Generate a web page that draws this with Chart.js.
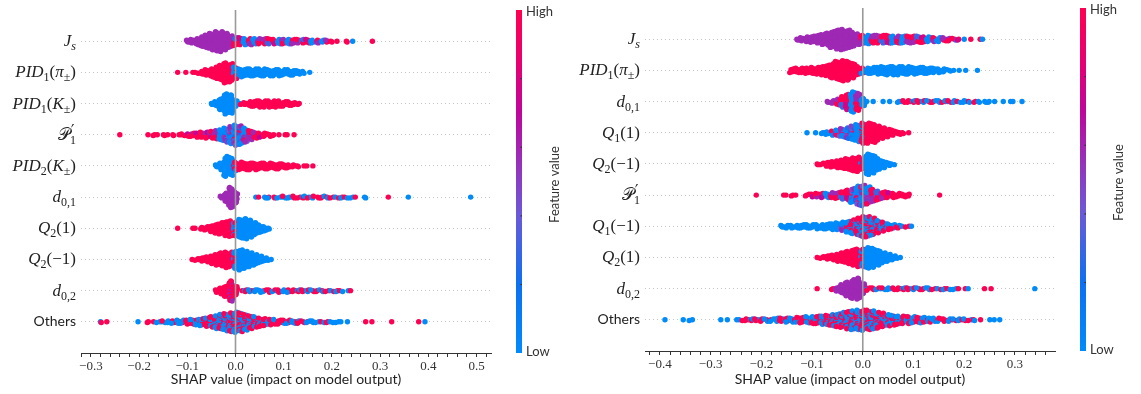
<!DOCTYPE html>
<html>
<head>
<meta charset="utf-8">
<script src="https://cdn.jsdelivr.net/npm/chart.js@4.4.0/dist/chart.umd.min.js"></script>
<style>
  html, body { margin: 0; padding: 0; background: #fff; }
  #wrap { position: relative; width: 1141px; height: 394px; }
  canvas { position: absolute; top: 0; }
  #leftChart { left: 0; }
  #rightChart { left: 570px; }
</style>
</head>
<body>
<div id="wrap">
  <canvas id="leftChart" width="570" height="394"></canvas>
  <canvas id="rightChart" width="571" height="394"></canvas>
</div>
<script>
// bin width of the SHAP histograms (each count = points stacked in that bin)
const binWidth = 0.01;

// ---- left panel ----
const leftLabels = ['$J_{s}', '$PID_{1}(π_{±})', '$PID_{1}(K_{±})', '$𝒫^{′}_{1}', '$PID_{2}(K_{±})',
  '$d_{0,1}', '$Q_{2}(1)', '$Q_{2}(−1)', '$d_{0,2}', 'Others'];
const leftStarts = [-0.10, -0.12, -0.05, -0.24, -0.04, -0.03, -0.12, -0.09, -0.04, -0.28];
const leftCounts = [
  [3,5,8,12,16,20,23,24,20,14, 10,9,8,8,7,7,7,7,6,6, 6,6,6,5,5,5,4,4,3,3, 2,1,0,2,1,0,0,0,1],
  [1,0,1,1,2,4,7,10,14,18,24,22, 14,10,9,9,9,9,9,8,8,8,7,7,6,5,3,1],
  [2,6,14,24,22,8, 2,3,6,7,8,8,8,8,7,6,5,4,2],
  [1,0,0,0,0,0,1,2,1,2,1,2,1,3,4,5,6,7,8,9,11,14,18,22, 26,24,18,12,8,6,5,4,2,1,1,1,1],
  [3,8,22,20, 10,9,8,8,8,7,7,7,6,6,5,4,3,2,1,1,1],
  [3,12,26, 14,0,0,0,1,1,2,2,2,2,3,2,3,2,3,2,3,2,3,2,2,2,2,2,2,1,0,2,0,0,0,0,1,0,0,0,1,0,0,0,0,0,0,0,0,0,0,0,0,1],
  [1,0,0,1,1,3,5,8,12,15,18,20, 18,24,26,22,16,10,6,2],
  [1,3,5,7,10,14,17,20,19, 22,26,22,18,14,9,5,2],
  [4,8,14,26, 12,1,3,3,3,4,3,4,3,4,3,4,3,3,3,3,3,3,2,2,2,2,2,1,1],
  [2,1,0,0,0,0,0,0,1,0,2,1,2,3,3,4,5,5,6,7,8,10,12,15,18,21,24,26,
   28,26,22,18,15,12,10,8,7,6,5,5,4,4,3,3,3,2,2,2,2,2,1,1,0,0,0,1,1,0,0,0,1,0,0,0,0,0,1,1]
];
// feature-value code by x range: r high, b low, p mid, m high/low mix, x all mixed, q high/mid, c low/mid
const leftHues = [
  [[-0.10,'p'],[0.00,'x'],[0.20,'r'],[0.24,'b'],[0.28,'r']],
  [[-0.12,'r'],[0.00,'m'],[0.01,'b']],
  [[-0.05,'b'],[0.01,'m'],[0.02,'r']],
  [[-0.24,'r'],[-0.10,'q'],[-0.04,'x'],[-0.02,'c'],[0.03,'x'],[0.04,'q'],[0.06,'r']],
  [[-0.04,'b'],[0.00,'m'],[0.01,'r']],
  [[-0.03,'p'],[0.04,'b'],[0.05,'r'],[0.06,'m'],[0.32,'r'],[0.36,'b']],
  [[-0.12,'r'],[0.00,'m'],[0.01,'b']],
  [[-0.09,'r'],[0.00,'m'],[0.01,'b']],
  [[-0.04,'r'],[-0.01,'q'],[0.00,'r'],[0.02,'m']],
  [[-0.28,'m'],[-0.27,'r'],[-0.20,'b'],[-0.18,'r'],[-0.16,'m'],[0.27,'r'],[0.39,'b']]
];
const leftTickValues = [-0.3, -0.2, -0.1, 0.0, 0.1, 0.2, 0.3, 0.4, 0.5];
const leftTickLabels = ['−0.3', '−0.2', '−0.1', '0.0', '0.1', '0.2', '0.3', '0.4', '0.5'];

// ---- right panel ----
const rightLabels = ['$J_{s}', '$PID_{1}(π_{±})', '$d_{0,1}', '$Q_{1}(1)', '$Q_{2}(−1)',
  '$𝒫^{′}_{1}', '$Q_{1}(−1)', '$Q_{2}(1)', '$d_{0,2}', 'Others'];
const rightStarts = [-0.13, -0.14, -0.07, -0.11, -0.09, -0.21, -0.16, -0.09, -0.09, -0.39];
const rightCounts = [
  [2,5,7,9,11,14,17,22,26,28,25,20,15, 12,12,11,11,11,11,10,10,10,10,9,9,8,7,6,6,5,4,3,2,1,1,0,1,1],
  [6,7,7,8,9,10,12,15,20,25,28,26,20,12, 8,8,9,10,11,12,12,12,11,11,10,9,9,8,7,6,5,3,1,1,1,0,0,1],
  [2,4,8,14,20,26,22,10, 1,1,0,1,1,0, 2,3,3,3,3,3,3,3,3,3,3,3,2,3,2,2,2,2,2,1,0,1,1,1,1],
  [1,0,1,2,4,6,8,11,14,18,22, 26,26,24,18,14,10,7,4,2,1],
  [2,3,6,8,10,12,15,18,20, 14,28,24,16,10,5,2],
  [1,0,0,0,0,1,1,2,1,0,3,4,5,6,6,7,8,10,13,18,24, 26,22,16,12,9,7,6,5,4,3,0,0,0,0,0,1],
  [3,4,4,4,5,5,5,6,6,7,8,9,11,14,18,22, 26,26,22,16,12,8,6,4,2,1,1],
  [1,3,5,7,10,13,17,21,24, 24,28,26,20,14,10,6,2],
  [1,0,0,2,6,12,18,24,27, 14,4,3,3,3,3,3,3,3,3,3,3,3,3,2,2,2,2,2,1,1,1,0,0,1,1,0,0,0,0,0,0,0,0,1],
  [1,0,0,0,1,2,0,0,0,0,0,1,1,0,1,2,3,3,3,4,4,4,5,5,6,6,7,8,9,10,11,12,14,16,18,21,24,26,27,
   28,27,25,22,19,16,14,12,11,10,9,8,7,6,5,5,4,4,3,3,3,2,2,1,0,1,1,1]
];
const rightHues = [
  [[-0.13,'p'],[0.00,'x'],[0.21,'r'],[0.24,'b']],
  [[-0.14,'r'],[0.00,'m'],[0.01,'b']],
  [[-0.07,'p'],[-0.05,'x'],[0.01,'b'],[0.07,'m'],[0.28,'b']],
  [[-0.11,'b'],[-0.06,'c'],[-0.01,'b'],[0.00,'m'],[0.01,'r']],
  [[-0.09,'r'],[0.00,'m'],[0.01,'b']],
  [[-0.21,'r'],[-0.10,'q'],[-0.07,'x'],[-0.02,'c'],[0.02,'x'],[0.04,'q'],[0.06,'r']],
  [[-0.16,'b'],[-0.04,'c'],[-0.03,'m'],[0.09,'r'],[0.10,'b']],
  [[-0.09,'r'],[0.00,'m'],[0.01,'b']],
  [[-0.09,'r'],[-0.06,'m'],[-0.05,'p'],[0.01,'m'],[0.24,'r'],[0.34,'b']],
  [[-0.39,'b'],[-0.24,'m'],[0.25,'b']]
];
const rightTickValues = [-0.4, -0.3, -0.2, -0.1, 0.0, 0.1, 0.2, 0.3];
const rightTickLabels = ['−0.4', '−0.3', '−0.2', '−0.1', '0.0', '0.1', '0.2', '0.3'];

const xTitle = 'SHAP value (impact on model output)';
const barHigh = 'High';
const barLow = 'Low';
const barTitle = 'Feature value';

// shap red_blue colormap, low -> high
const cmapStops = [
  [0.00, [0, 139, 251]],
  [0.20, [12, 112, 240]],
  [0.40, [106, 90, 216]],
  [0.55, [150, 50, 186]],
  [0.70, [190, 6, 156]],
  [0.85, [232, 0, 112]],
  [1.00, [255, 0, 82]]
];

function cmap(t) {
  for (let i = 1; i < cmapStops.length; i++) {
    const [t1, c1] = cmapStops[i];
    const [t0, c0] = cmapStops[i - 1];
    if (t <= t1) {
      const f = (t - t0) / (t1 - t0);
      const c = c0.map((v, k) => Math.round(v + (c1[k] - v) * f));
      return `rgb(${c[0]},${c[1]},${c[2]})`;
    }
  }
  return 'rgb(255,0,82)';
}

// feature-value mixes used inside a bin
const mixes = {
  r: [1], b: [0], p: [0.58],
  m: [0, 1, 1, 0, 1, 0, 0, 1, 1, 0, 1, 0, 0, 0, 1, 1, 0, 1],
  x: [0, 1, 0.58, 1, 0, 0.58, 1, 0, 0.3, 1, 0.58, 0, 1, 0.8],
  q: [1, 0.6, 1, 1, 0.7, 1, 0.58, 1],
  c: [0, 0.5, 0, 0.6, 0.25, 1, 0, 0.4, 0, 0.58, 0, 0.2]
};
// spread of points inside a bin (fraction of bin width)
const binSpread = [0, 0.3, -0.3, 0.15, -0.4, 0.4, -0.15, 0.22, -0.22, 0.05, -0.08];

function codeAt(segs, x) {
  let code = segs[0][1];
  segs.forEach(([from, c]) => { if (x >= from - 1e-9) code = c; });
  return code;
}

// beeswarm layout like shap: layers alternate above / below the row
function buildSwarm(starts, counts, hues) {
  const pts = [], cols = [];
  counts.forEach((row, i) => {
    let maxLayer = 0;
    row.forEach(n => { maxLayer = Math.max(maxLayer, Math.ceil((n - 1) / 2)); });
    const scale = 0.36 / (maxLayer + 1);
    row.forEach((n, j) => {
      const x = +(starts[i] + j * binWidth).toFixed(3);
      const mix = mixes[codeAt(hues[i], x)];
      for (let k = 0; k < n; k++) {
        const off = Math.ceil(k / 2) * (k % 2 ? 1 : -1);
        const dx = binSpread[(k * 3 + j) % binSpread.length] * binWidth;
        pts.push({ x: x + dx, y: i + off * scale });
        cols.push(cmap(mix[(k * 7 + j * 5) % mix.length]));
      }
    });
  });
  return { pts, cols };
}

// math-ish row labels: '$' prefix = math, _{..} sub, ^{..} sup
function parseLabel(s) {
  const out = [];
  const chars = Array.from(s);
  let i = 0;
  while (i < chars.length) {
    const ch = chars[i];
    if ((ch === '_' || ch === '^') && chars[i + 1] === '{') {
      let j = i + 2, txt = '';
      while (chars[j] !== '}') { txt += chars[j]; j++; }
      out.push({ text: txt, kind: ch === '_' ? 'sub' : 'sup' });
      i = j + 1;
    } else {
      out.push({ text: ch, kind: 'base' });
      i++;
    }
  }
  return out;
}

const serif = "'Liberation Serif', 'DejaVu Serif', serif";
function fontFor(ch, kind) {
  const ital = /[A-Za-zπ]/.test(ch) ? 'italic ' : '';
  const size = kind === 'base' ? 17 : (kind === 'sub' ? 12 : 15);
  const fam = kind === 'sup' ? "'DejaVu Sans', sans-serif" : serif;
  return `${ital}${size}px ${fam}`;
}

function drawRowLabel(ctx, label, xRight, yMid) {
  ctx.save();
  ctx.fillStyle = '#222';
  if (!label.startsWith('$')) {
    ctx.font = '14px Lato';
    ctx.textAlign = 'right';
    ctx.textBaseline = 'middle';
    ctx.fillText(label, xRight, yMid);
    ctx.restore();
    return;
  }
  const toks = parseLabel(label.slice(1));
  const glyphs = [];
  let x = 0, supStart = null, supEnd = 0;
  toks.forEach((t, ti) => {
    let gx = x;
    if (t.kind === 'sub' && supStart !== null && toks[ti - 1].kind === 'sup') gx = supStart;
    if (t.kind === 'sup') { supStart = x; gx = x + 1; }
    const dy = t.kind === 'sub' ? 4 : (t.kind === 'sup' ? -4 : 0);
    Array.from(t.text).forEach(ch => {
      ctx.font = fontFor(ch, t.kind);
      const w = ctx.measureText(ch).width;
      glyphs.push({ ch, font: ctx.font, x: gx, dy });
      gx += w;
    });
    if (t.kind === 'sup') supEnd = gx;
    x = (t.kind === 'sub' && gx < supEnd) ? supEnd : gx;
    if (t.kind === 'base') supStart = null;
  });
  const x0 = xRight - x;
  ctx.textAlign = 'left';
  ctx.textBaseline = 'alphabetic';
  glyphs.forEach(g => {
    ctx.font = g.font;
    ctx.fillText(g.ch, x0 + g.x, yMid + 5 + g.dy);
  });
  ctx.restore();
}

const shapDeco = {
  id: 'shapDeco',
  afterDatasetsDraw(chart) {
    const { ctx, chartArea: a, scales: { x } } = chart;
    const zx = x.getPixelForValue(0);
    ctx.save();
    ctx.strokeStyle = '#999999';
    ctx.lineWidth = 1.6;
    ctx.beginPath();
    ctx.moveTo(zx, a.top);
    ctx.lineTo(zx, a.bottom);
    ctx.stroke();
    ctx.restore();
  },
  afterDraw(chart, args, opts) {
    const { ctx, chartArea: a, scales: { y } } = chart;
    opts.labels.forEach((lab, i) => drawRowLabel(ctx, lab, a.left - 5, y.getPixelForValue(i)));

    const cx = a.right + 25, cw = 6, top = a.top, bot = a.bottom;
    ctx.save();
    const g = ctx.createLinearGradient(0, bot, 0, top);
    cmapStops.forEach(([t, c]) => g.addColorStop(t, `rgb(${c[0]},${c[1]},${c[2]})`));
    ctx.fillStyle = g;
    ctx.fillRect(cx, top, cw, bot - top);
    ctx.fillStyle = '#333';
    [0.2, 0.4, 0.6, 0.8].forEach(f => ctx.fillRect(cx + cw - 1.5, bot - f * (bot - top) - 0.5, 1.5, 1.2));
    ctx.font = '13px Lato';
    ctx.textAlign = 'left';
    ctx.textBaseline = 'middle';
    ctx.fillText(barHigh, cx + cw + 4, top + 2);
    ctx.fillText(barLow, cx + cw + 4, bot - 1);
    ctx.translate(a.right + 64, (top + bot) / 2 + 3);
    ctx.rotate(-Math.PI / 2);
    ctx.textAlign = 'center';
    ctx.fillText(barTitle, 0, 0);
    ctx.restore();
  }
};

function makeChart(id, cfg) {
  const swarm = buildSwarm(cfg.starts, cfg.counts, cfg.hues);
  const minor = [];
  for (let v = Math.ceil(cfg.xMin / 0.02 - 1e-6); v <= Math.floor(cfg.xMax / 0.02 + 1e-6); v++) {
    minor.push(+(v * 0.02).toFixed(2));
  }
  const rows = cfg.labels.map((_, i) => i);
  return new Chart(document.getElementById(id), {
    type: 'scatter',
    data: {
      datasets: [{
        data: swarm.pts,
        pointBackgroundColor: swarm.cols,
        pointBorderWidth: 0,
        pointRadius: 2.7,
        pointHoverRadius: 2.7
      }]
    },
    options: {
      responsive: false,
      animation: false,
      events: [],
      layout: { padding: { left: 0, right: cfg.padRight, top: cfg.padTop, bottom: 0 } },
      plugins: {
        legend: { display: false },
        tooltip: { enabled: false },
        shapDeco: { labels: cfg.labels }
      },
      scales: {
        x: {
          type: 'linear',
          min: cfg.xMin,
          max: cfg.xMax,
          afterBuildTicks: s => { s.ticks = minor.map(v => ({ value: v })); },
          afterFit: s => { s.height = cfg.axisH; },
          grid: { drawOnChartArea: false, drawTicks: true, tickLength: 4, tickColor: '#333', tickWidth: 1 },
          border: { display: true, color: '#333', width: 1 },
          ticks: {
            autoSkip: false,
            maxRotation: 0,
            padding: 2,
            color: '#333',
            font: { family: serif, size: 13 },
            callback: value => {
              const i = cfg.tickValues.findIndex(t => Math.abs(t - value) < 1e-6);
              return i >= 0 ? cfg.tickLabels[i] : '';
            }
          },
          title: {
            display: true,
            text: xTitle,
            color: '#222',
            font: { family: 'Lato', size: 14 },
            padding: { top: 0, bottom: 6 }
          }
        },
        y: {
          type: 'linear',
          reverse: true,
          min: -1,
          max: rows.length,
          afterBuildTicks: s => { s.ticks = rows.map(v => ({ value: v })); },
          afterFit: s => { s.width = cfg.leftW; },
          ticks: { display: false },
          grid: { color: '#c4c4c4', lineWidth: 1, drawTicks: false },
          border: { display: false, dash: [1, 3] }
        }
      }
    },
    plugins: [shapDeco]
  });
}

makeChart('leftChart', {
  labels: leftLabels, starts: leftStarts, counts: leftCounts, hues: leftHues,
  tickValues: leftTickValues, tickLabels: leftTickLabels,
  xMin: -0.3205, xMax: 0.530, leftW: 81, padRight: 79, padTop: 10, axisH: 41
});
makeChart('rightChart', {
  labels: rightLabels, starts: rightStarts, counts: rightCounts, hues: rightHues,
  tickValues: rightTickValues, tickLabels: rightTickLabels,
  xMin: -0.4294, xMax: 0.379, leftW: 75, padRight: 86, padTop: 8, axisH: 43
});
</script>
</body>
</html>
